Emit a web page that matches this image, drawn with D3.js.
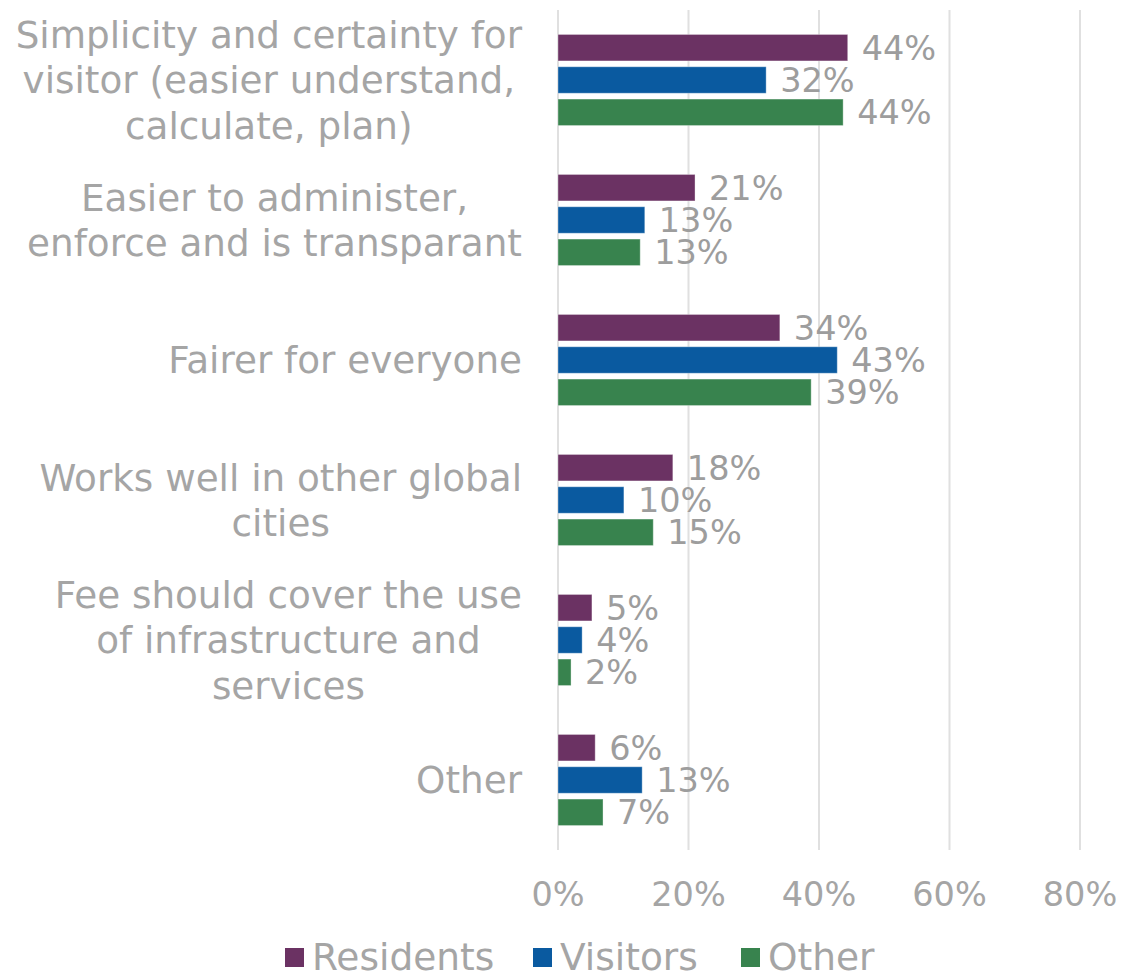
<!DOCTYPE html>
<html>
<head>
<meta charset="utf-8">
<script src="https://cdn.jsdelivr.net/npm/d3@7"></script>
<style>
  html, body { margin: 0; padding: 0; background: #fff; }
  svg { display: block; font-family: "DejaVu Sans", Verdana, sans-serif; }
</style>
</head>
<body>
<svg id="chart" width="1122" height="973"></svg>
<script>
// Reasons given for preferring the option, share of respondents by group
const categories = [
  ["Simplicity and certainty for", "visitor (easier understand,", "calculate, plan)"],
  ["Easier to administer,", "enforce and is transparant"],
  ["Fairer for everyone"],
  ["Works well in other global", "cities"],
  ["Fee should cover the use", "of infrastructure and", "services"],
  ["Other"]
];
const seriesNames = ["Residents", "Visitors", "Other"];
const seriesColors = ["#6b3263", "#0a5aa0", "#38834e"];
const residents = [0.444, 0.210, 0.340, 0.176, 0.052, 0.057];
const visitors  = [0.319, 0.133, 0.428, 0.101, 0.037, 0.129];
const other     = [0.437, 0.126, 0.388, 0.146, 0.020, 0.069];
const tickValues = [0, 0.2, 0.4, 0.6, 0.8];

const seriesValues = [residents, visitors, other];
const rows = categories.map((lines, i) => ({
  key: lines.join(" "),
  lines,
  values: seriesNames.map((s, j) => ({ series: s, value: seriesValues[j][i], color: seriesColors[j] }))
}));

const svg = d3.select("#chart");
const plotLeft = 558, plotRight = 1080, plotTop = 10, plotBottom = 850;
const textColor = "#a5a5a5";

const x = d3.scaleLinear().domain([0, 0.8]).range([plotLeft, plotRight]);
const y = d3.scaleBand().domain(rows.map(r => r.key)).range([plotTop, plotBottom]).padding(0);
const yInner = d3.scaleBand().domain(seriesNames).range([0, y.bandwidth()])
  .paddingInner(0.18).paddingOuter(0.757);
const pct = d3.format(".0%");

// Vertical gridlines
svg.append("g")
  .selectAll("line")
  .data(tickValues)
  .join("line")
  .attr("x1", d => x(d)).attr("x2", d => x(d))
  .attr("y1", plotTop).attr("y2", plotBottom)
  .attr("stroke", "#e0e0e0").attr("stroke-width", 2);

// Bars and value labels
const groups = svg.append("g")
  .selectAll("g")
  .data(rows)
  .join("g")
  .attr("transform", d => `translate(0,${y(d.key)})`);

groups.selectAll("rect")
  .data(d => d.values)
  .join("rect")
  .attr("x", x(0))
  .attr("y", d => yInner(d.series))
  .attr("width", d => x(d.value) - x(0))
  .attr("height", yInner.bandwidth())
  .attr("fill", d => d.color)
  .attr("stroke", "#ffffff").attr("stroke-opacity", 0.35).attr("stroke-width", 1);

groups.selectAll("text")
  .data(d => d.values)
  .join("text")
  .attr("x", d => x(d.value) + 14)
  .attr("y", d => yInner(d.series) + yInner.bandwidth() / 2)
  .attr("dy", "0.36em")
  .attr("font-size", 33.5)
  .attr("fill", "#9d9d9d")
  .text(d => pct(d.value));

// Category labels: block right-aligned, lines centred within the block
const labelRight = 522, lineHeight = 45.5;
const catLayer = svg.append("g").attr("font-size", 37.3).attr("fill", textColor);
rows.forEach(r => {
  const cy = y(r.key) + y.bandwidth() / 2;
  const t = catLayer.append("text").attr("text-anchor", "middle");
  const spans = r.lines.map((line, i) =>
    t.append("tspan")
      .attr("y", cy + (i - (r.lines.length - 1) / 2) * lineHeight)
      .attr("dy", "0.36em")
      .text(line));
  const w = d3.max(spans, s => s.node().getComputedTextLength());
  spans.forEach(s => s.attr("x", labelRight - w / 2));
});

// X axis tick labels
svg.append("g")
  .attr("font-size", 33.5)
  .attr("fill", textColor)
  .attr("text-anchor", "middle")
  .selectAll("text")
  .data(tickValues)
  .join("text")
  .attr("x", d => x(d))
  .attr("y", 906)
  .text(d => pct(d));

// Legend
const legendItems = [
  { name: seriesNames[0], color: seriesColors[0], x: 285 },
  { name: seriesNames[1], color: seriesColors[1], x: 533 },
  { name: seriesNames[2], color: seriesColors[2], x: 741 }
];
const legend = svg.append("g").selectAll("g").data(legendItems).join("g")
  .attr("transform", d => `translate(${d.x},0)`);
legend.append("rect")
  .attr("x", 0).attr("y", 948).attr("width", 19).attr("height", 19)
  .attr("fill", d => d.color);
legend.append("text")
  .attr("x", 27).attr("y", 970)
  .attr("font-size", 37.5)
  .attr("fill", textColor)
  .text(d => d.name);
</script>
</body>
</html>
